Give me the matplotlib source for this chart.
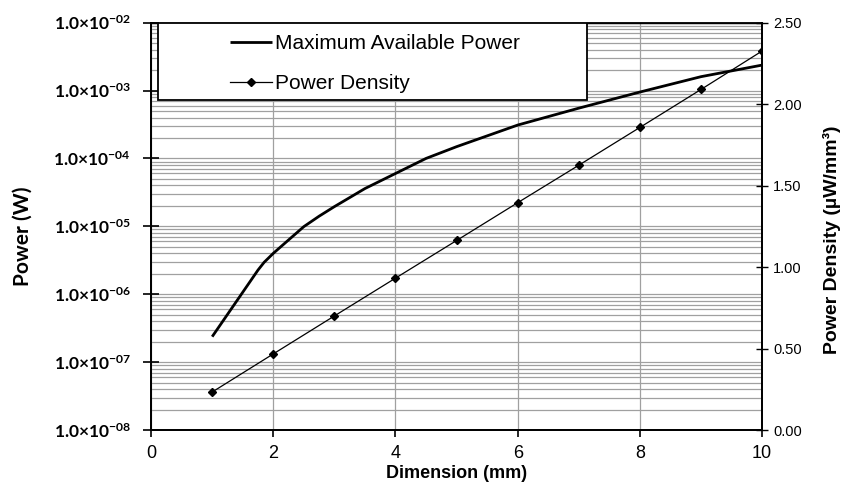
import numpy as np
import matplotlib
matplotlib.use("Agg")
import matplotlib.pyplot as plt
from matplotlib.patches import Rectangle
from matplotlib.ticker import FixedLocator, LogLocator, NullFormatter

plt.rcParams['font.family'] = ['Liberation Sans', 'DejaVu Sans']
plt.rcParams['mathtext.fontset'] = 'custom'
plt.rcParams['mathtext.rm'] = 'Lato'
plt.rcParams['mathtext.bf'] = 'Lato:bold'

#  data
dim_curve = [1, 1.75, 1.85, 2, 2.25, 2.5, 2.75, 3, 3.5, 4, 4.5, 5, 6, 7, 8, 9, 10]
max_power = [2.37e-7, 2.27e-6, 2.95e-6, 4.0e-6, 6.3e-6, 9.9e-6, 1.41e-5, 1.95e-5,
             3.6e-5, 6.0e-5, 1.0e-4, 1.49e-4, 3.1e-4, 5.5e-4, 9.5e-4, 1.6e-3, 2.37e-3]

dim_pts = [1, 2, 3, 4, 5, 6, 7, 8, 9, 10]
power_density = [0.233, 0.467, 0.70, 0.932, 1.163, 1.395, 1.625, 1.857, 2.09, 2.326]

left_ticks = [1e-8, 1e-7, 1e-6, 1e-5, 1e-4, 1e-3, 1e-2]
left_labels = [r'$\mathbf{1.0{\times}10^{-0%d}}$' % n for n in [8, 7, 6, 5, 4, 3, 2]]
right_ticks = [0.0, 0.5, 1.0, 1.5, 2.0, 2.5]
x_ticks = [0, 2, 4, 6, 8, 10]

fig = plt.figure(figsize=(8.44, 4.92), dpi=100)
ax = fig.add_axes([0.179, 0.126, 0.724, 0.828])
ax2 = ax.twinx()

l1, = ax.plot(dim_curve, max_power, color='black', lw=2.0, solid_capstyle='butt',
              solid_joinstyle='round', label='Maximum Available Power')
l2, = ax2.plot(dim_pts, power_density, color='black', lw=0.9, marker='D',
               markersize=4.5, label='Power Density')

#  left log axis
ax.set_yscale('log')
ax.set_ylim(1e-8, 1e-2)
ax.set_xlim(0, 10)
ax.yaxis.set_major_locator(FixedLocator(left_ticks))
ax.set_yticklabels(left_labels, fontsize=12.5)
ax.yaxis.set_minor_locator(LogLocator(base=10, subs=np.arange(2, 10)))
ax.yaxis.set_minor_formatter(NullFormatter())
ax.tick_params(axis='y', which='major', direction='inout', length=11, width=1.2, pad=9)
ax.tick_params(axis='y', which='minor', length=0)
ax.set_xticks(x_ticks)
ax.tick_params(axis='x', direction='out', length=5, width=1.2, labelsize=13, pad=6)
ax.grid(True, which='both', axis='y', color='#a0a0a0', lw=0.9)
ax.grid(True, which='major', axis='x', color='#a0a0a0', lw=0.9)
ax.set_axisbelow(True)

#  right linear axis
ax2.set_ylim(0, 2.5)
ax2.set_yticks(right_ticks)
ax2.set_yticklabels(['%.2f' % v for v in right_ticks], fontsize=10.5)
ax2.tick_params(axis='y', direction='inout', length=9, width=1.0)

for a in (ax, ax2):
    for s in a.spines.values():
        s.set_linewidth(1.3)
ax.spines['top'].set_linewidth(1.0)

ax.set_xlabel('Dimension (mm)', fontsize=13, fontweight='bold', labelpad=2)
ax.set_ylabel('Power (W)', fontsize=15, fontweight='bold', family='Lato')
ax.yaxis.set_label_coords(-0.193, 0.476)
ax2.set_ylabel('Power Density (µW/mm³)', fontsize=14, fontweight='bold')
ax2.yaxis.set_label_coords(1.10, 0.466)

#  legend box
box = Rectangle((0.011, 0.809), 0.702, 0.191, transform=ax2.transAxes,
                facecolor='white', edgecolor='black', lw=1.3, zorder=5)
ax2.add_patch(box)
leg = ax2.legend(handles=[l1, l2], loc='upper left', bbox_to_anchor=(0.129, 0.972),
                 frameon=False, fontsize=15, handlelength=2.0, handletextpad=0.15,
                 labelspacing=1.0, borderaxespad=0, borderpad=0)
leg.set_zorder(6)

fig.savefig('out.png', dpi=100)
